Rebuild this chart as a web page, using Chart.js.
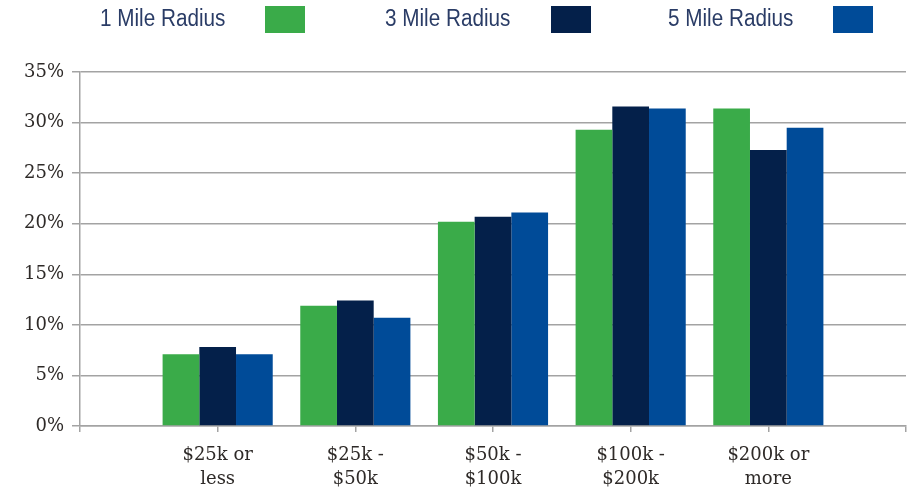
<!DOCTYPE html>
<html>
<head>
<meta charset="utf-8">
<script src="https://cdn.jsdelivr.net/npm/chart.js@4"></script>
<style>
  html, body { margin:0; padding:0; background:#fff; }
  #wrap { position:relative; width:913px; height:492px; }
  canvas { position:absolute; left:0; top:0; }
  .leg { position:absolute; top:3px; height:30px; font-family:"Liberation Sans",sans-serif; font-size:23px; color:#2a3c66; line-height:30px; white-space:nowrap; transform:scaleX(0.9); transform-origin:0 0; }
  .box { position:absolute; top:6px; width:40px; height:27px; }
</style>
</head>
<body>
<div id="wrap">
  <canvas id="c" width="913" height="492"></canvas>
</div>
<script>
const categories = ['', ['$25k or','less'], ['$25k -','$50k'], ['$50k -','$100k'], ['$100k -','$200k'], ['$200k or','more'], ''];
const seriesNames = ['1 Mile Radius', '3 Mile Radius', '5 Mile Radius'];
const mile1 = [null, 7.1, 11.9, 20.2, 29.3, 31.4, null];
const mile3 = [null, 7.8, 12.4, 20.7, 31.6, 27.3, null];
const mile5 = [null, 7.1, 10.7, 21.1, 31.4, 29.5, null];
const yTicks = [0, 5, 10, 15, 20, 25, 30, 35];
const colors = ['#3aab49', '#04204a', '#004b98'];

// HTML legend (text left, swatch right)
const legendPos = [{t:100, b:265}, {t:385, b:551}, {t:668, b:833}];
const wrap = document.getElementById('wrap');
seriesNames.forEach((n, i) => {
  const t = document.createElement('div');
  t.className = 'leg'; t.style.left = legendPos[i].t + 'px'; t.textContent = n;
  wrap.appendChild(t);
  const b = document.createElement('div');
  b.className = 'box'; b.style.left = legendPos[i].b + 'px'; b.style.background = colors[i];
  wrap.appendChild(b);
});

const gridColor = '#a3a3a3';
new Chart(document.getElementById('c'), {
  type: 'bar',
  data: {
    labels: categories,
    datasets: [
      { label: seriesNames[0], data: mile1, backgroundColor: colors[0] },
      { label: seriesNames[1], data: mile3, backgroundColor: colors[1] },
      { label: seriesNames[2], data: mile5, backgroundColor: colors[2] }
    ]
  },
  options: {
    responsive: false,
    animation: false,
    devicePixelRatio: 1,
    layout: { padding: { top: 72, right: 7, left: 0, bottom: 0 } },
    plugins: { legend: { display: false }, tooltip: { enabled: false } },
    datasets: { bar: { categoryPercentage: 0.8, barPercentage: 1.0 } },
    scales: {
      x: {
        offset: false,
        grid: { offset: false, drawOnChartArea: false, drawTicks: true, tickLength: 6, color: gridColor, lineWidth: 1.5 },
        border: { display: true, color: gridColor, width: 1.5 },
        ticks: { autoSkip: false, maxRotation: 0, padding: 11, color: '#2e2a28', font: { family: '"DejaVu Serif", serif', size: 18, lineHeight: 1.33 } },
        afterFit: (s) => { s.height = 66; s.paddingLeft = 0; s.paddingRight = 0; }
      },
      y: {
        min: 0, max: 35,
        afterBuildTicks: (s) => { s.ticks = yTicks.map(v => ({ value: v })); },
        grid: { color: gridColor, lineWidth: 1.5, tickLength: 8, drawTicks: true },
        border: { display: true, color: gridColor, width: 1.5 },
        ticks: { padding: 8, color: '#2e2a28', font: { family: '"DejaVu Serif", serif', size: 18 }, callback: (v) => v + '%' },
        afterFit: (s) => { s.width = 80; }
      }
    }
  }
});
</script>
</body>
</html>
